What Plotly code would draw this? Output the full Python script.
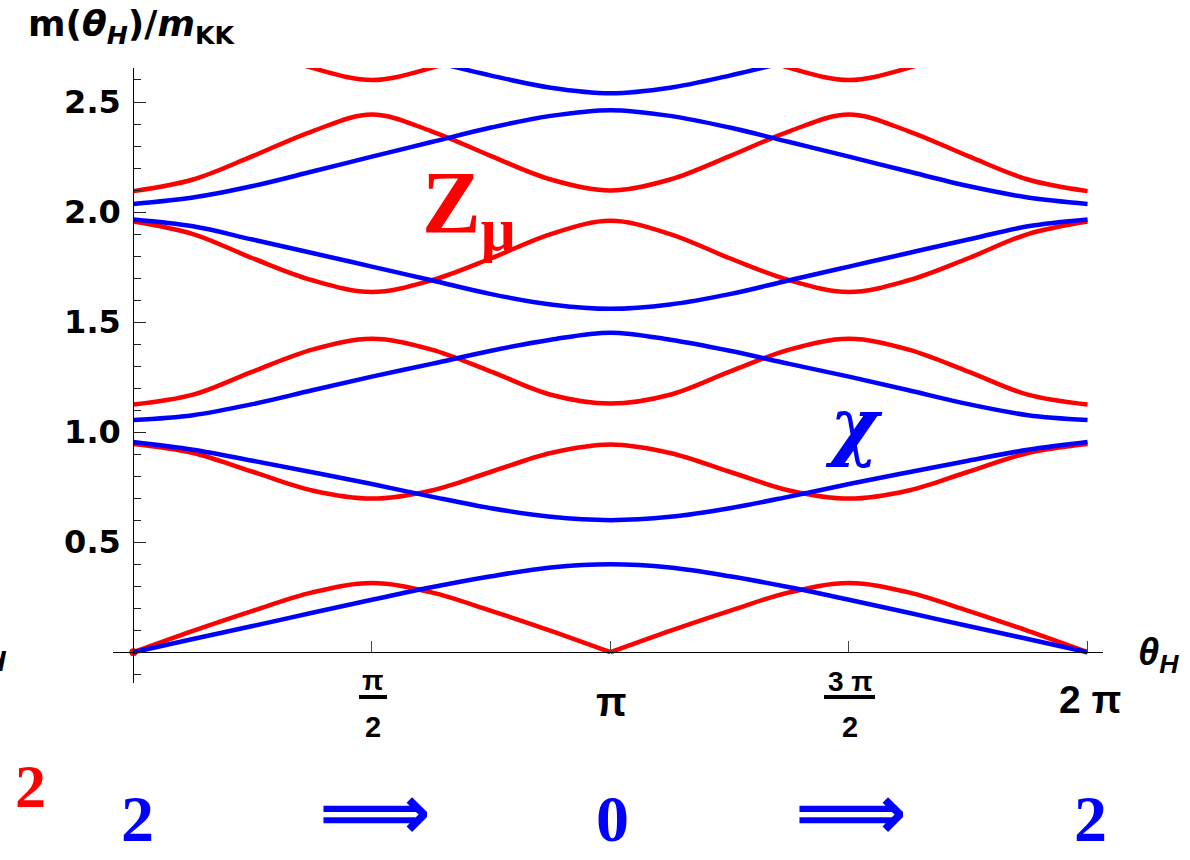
import math
import plotly.graph_objects as go

# sample points, in units of pi
theta_pi = [0, 0.125, 0.25, 0.375, 0.5, 0.625, 0.75, 0.875, 1.0,
            1.125, 1.25, 1.375, 1.5, 1.625, 1.75, 1.875, 2.0]

# Z_mu tower (red)
z1 = [0.0, 0.097, 0.188, 0.272, 0.314, 0.272, 0.188, 0.097, 0.0,
      0.097, 0.188, 0.272, 0.314, 0.272, 0.188, 0.097, 0.0]
z2 = [0.946, 0.905, 0.82, 0.735, 0.698, 0.735, 0.82, 0.905, 0.944,
      0.905, 0.82, 0.735, 0.698, 0.735, 0.82, 0.905, 0.946]
z3 = [1.125, 1.17, 1.275, 1.375, 1.424, 1.375, 1.275, 1.17, 1.13,
      1.17, 1.275, 1.375, 1.424, 1.375, 1.275, 1.17, 1.125]
z4 = [1.957, 1.90, 1.79, 1.69, 1.637, 1.69, 1.79, 1.90, 1.96,
      1.90, 1.79, 1.69, 1.637, 1.69, 1.79, 1.90, 1.957]
z5 = [2.095, 2.148, 2.254, 2.367, 2.443, 2.367, 2.254, 2.148, 2.098,
      2.148, 2.254, 2.367, 2.443, 2.367, 2.254, 2.148, 2.095]
z6 = [2.92, 2.86, 2.75, 2.655, 2.60, 2.655, 2.75, 2.86, 2.92,
      2.86, 2.75, 2.655, 2.60, 2.655, 2.75, 2.86, 2.92]

# chi tower (blue)
c1 = [0.0, 0.06, 0.119, 0.179, 0.238, 0.295, 0.345, 0.385, 0.40,
      0.385, 0.345, 0.295, 0.238, 0.179, 0.119, 0.06, 0.0]
c2 = [0.955, 0.92, 0.87, 0.818, 0.764, 0.707, 0.654, 0.615, 0.60,
      0.615, 0.654, 0.707, 0.764, 0.818, 0.87, 0.92, 0.955]
c3 = [1.055, 1.077, 1.127, 1.19, 1.252, 1.31, 1.37, 1.42, 1.452,
      1.42, 1.37, 1.31, 1.252, 1.19, 1.127, 1.077, 1.055]
c4 = [1.966, 1.935, 1.875, 1.814, 1.752, 1.69, 1.627, 1.58, 1.56,
      1.58, 1.627, 1.69, 1.752, 1.814, 1.875, 1.935, 1.966]
c5 = [2.037, 2.066, 2.118, 2.184, 2.252, 2.318, 2.384, 2.437, 2.463,
      2.437, 2.384, 2.318, 2.252, 2.184, 2.118, 2.066, 2.037]
c6 = [2.96, 2.93, 2.87, 2.81, 2.75, 2.685, 2.62, 2.565, 2.54,
      2.565, 2.62, 2.685, 2.75, 2.81, 2.87, 2.93, 2.96]

ytick_vals = [0.5, 1.0, 1.5, 2.0, 2.5]
ytick_text = ["0.5", "1.0", "1.5", "2.0", "2.5"]
xtick_pi = [0.5, 1.0, 1.5, 2.0]

RED = "#ff0000"
BLUE = "#0000ff"
LW = 4.5
theta = [t * math.pi for t in theta_pi]

XR = [-0.134, 6.385]
YR = [-0.14, 2.6545]
W, H = 1190, 860
L, T = 113, 68
R, B = W - 1103, H - 683
PW, PH = W - L - R, H - T - B


def px(x):
    return (x - L) / PW


def py(y):
    return (H - B - y) / PH


fig = go.Figure()

# lowest Z mode has kinks at 0, pi, 2pi: draw each arch separately
for a, b in [(0, 9), (8, 17)]:
    fig.add_trace(go.Scatter(x=theta[a:b], y=z1[a:b], mode="lines",
                             line=dict(color=RED, width=LW, shape="spline"),
                             hoverinfo="skip", showlegend=False))
for ys in [z2, z3, z4, z5, z6]:
    fig.add_trace(go.Scatter(x=theta, y=ys, mode="lines",
                             line=dict(color=RED, width=LW, shape="spline", smoothing=1),
                             hoverinfo="skip", showlegend=False))
fig.add_trace(go.Scatter(x=theta[:1], y=z1[:1], mode="markers",
                         marker=dict(color=RED, size=8),
                         hoverinfo="skip", showlegend=False))
for ys in [c1, c2, c3, c4, c5, c6]:
    fig.add_trace(go.Scatter(x=theta, y=ys, mode="lines",
                             line=dict(color=BLUE, width=LW, shape="spline", smoothing=1),
                             hoverinfo="skip", showlegend=False))

fig.update_xaxes(range=XR, anchor="free", position=-YR[0] / (YR[1] - YR[0]),
                 automargin=False,
                 showline=True, linecolor="black", linewidth=1.3,
                 ticks="inside", tickvals=[t * math.pi for t in xtick_pi],
                 ticklen=11, tickcolor="#444", tickwidth=1.3,
                 showticklabels=False, showgrid=False, zeroline=False)
fig.update_yaxes(range=YR, anchor="free", position=-XR[0] / (XR[1] - XR[0]),
                 automargin=False,
                 showline=True, linecolor="black", linewidth=1.3,
                 ticks="inside", tickvals=ytick_vals, ticktext=ytick_text,
                 ticklen=12, tickcolor="#222", tickwidth=1.3, ticklabelstandoff=6,
                 tickfont=dict(family="DejaVu Sans", size=32, color="black", weight="bold"),
                 minor=dict(dtick=0.1, tick0=0, ticks="inside", ticklen=7,
                            tickcolor="#222", tickwidth=1.2, showgrid=False),
                 showgrid=False, zeroline=False)

ann = []


def text(x, y, s, size, color="black", family="Liberation Sans", xa="center", ya="middle"):
    ann.append(dict(x=px(x), y=py(y), xref="paper", yref="paper", text=s,
                    showarrow=False, xanchor=xa, yanchor=ya,
                    font=dict(family=family, size=size, color=color, weight="bold")))


# x tick labels
text(611, 702, "π", 40)
text(1090, 699, "2 π", 39)
text(372, 680, "π", 28)
text(373, 727, "2", 29)
text(850, 681, "3 π", 28)
text(850, 727, "2", 29)
shapes = [dict(type="line", xref="paper", yref="paper",
               x0=px(x0), x1=px(x1), y0=py(697), y1=py(697),
               line=dict(color="black", width=4))
          for x0, x1 in [(359, 387), (824, 875)]]

# axis labels
text(26, 1, "m(<i>θ</i><sub><i>H</i></sub>)/<i>m</i><sub>KK</sub>", 36,
     family="DejaVu Sans", xa="left", ya="top")
text(1136, 655, "<i>θ</i><sub><i>H</i></sub>", 38, xa="left")
text(9, 660, "<i>H</i>", 30, xa="right")

# field labels
text(420, 208, "Z<sub>μ</sub>", 88, color=RED, family="Liberation Serif", xa="left")
text(854, 425, "<i>χ</i>", 74, color=BLUE, family="DejaVu Serif")

# winding numbers
SERIF = "Liberation Serif"
text(30, 786, "2", 62, color=RED, family=SERIF)
text(137, 818, "2", 66, color=BLUE, family=SERIF)
text(375, 859, "⟹", 78, color=BLUE, family="DejaVu Sans", ya="bottom")
text(612, 818, "0", 66, color=BLUE, family=SERIF)
text(851, 859, "⟹", 78, color=BLUE, family="DejaVu Sans", ya="bottom")
text(1090, 818, "2", 66, color=BLUE, family=SERIF)

fig.update_layout(width=W, height=H, margin=dict(l=L, r=R, t=T, b=B),
                  plot_bgcolor="white", paper_bgcolor="white",
                  annotations=ann, shapes=shapes, showlegend=False)

# drop the browser's default 8px body margin so the figure sits at (0, 0)
fig.write_html("out.html", config={"displayModeBar": False},
               post_script="document.body.style.margin = '0px';")
